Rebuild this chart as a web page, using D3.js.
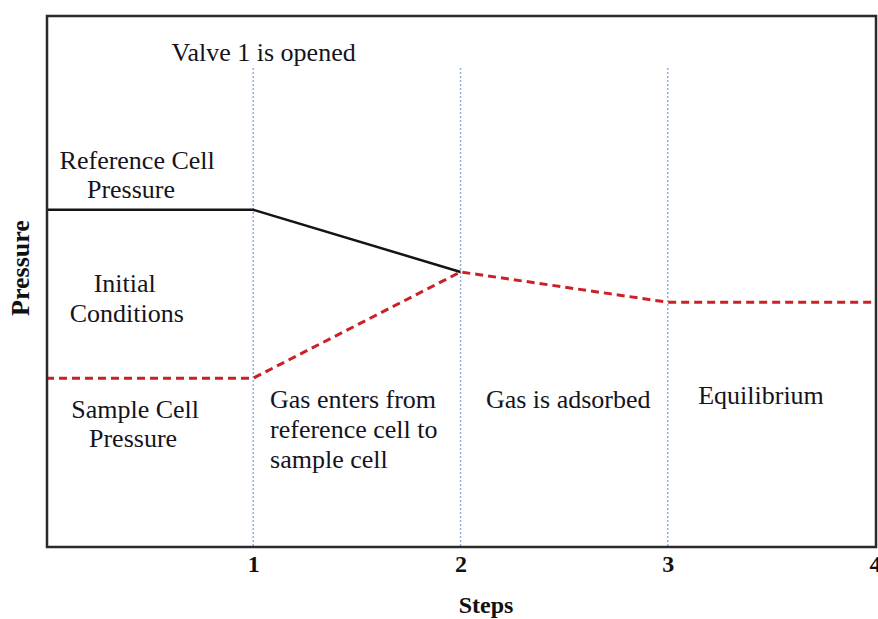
<!DOCTYPE html>
<html>
<head>
<meta charset="utf-8">
<script src="https://cdn.jsdelivr.net/npm/d3@7"></script>
<style>
  body { margin: 0; background: #fff; }
</style>
</head>
<body>
<svg id="chart" width="878" height="619"></svg>
<script>
/* Pressure steps diagram (arbitrary pressure units) */

const serif = "'Liberation Serif', 'Times New Roman', serif"

const steps = [1, 2, 3, 4]
const stepLines = [1, 2, 3]
const refCell = [[0, 63.5], [1, 63.5], [2, 51.8]]
const sampleCell = [[0, 31.8], [1, 31.8], [2, 51.8], [3, 46.1], [4, 46.1]]

// annotation text, step (x), pressure at baseline (y), anchor
const notes = [
  { text: 'Valve 1 is opened', x: 1.05, y: 91.5, a: 'middle' },
  { text: 'Reference Cell', x: 0.44, y: 71.2, a: 'middle' },
  { text: 'Pressure', x: 0.41, y: 65.7, a: 'middle' },
  { text: 'Initial', x: 0.38, y: 48.0, a: 'middle' },
  { text: 'Conditions', x: 0.39, y: 42.4, a: 'middle' },
  { text: 'Sample Cell', x: 0.43, y: 24.3, a: 'middle' },
  { text: 'Pressure', x: 0.42, y: 18.8, a: 'middle' },
  { text: 'Gas enters from', x: 1.081, y: 26.2, a: 'start' },
  { text: 'reference cell to', x: 1.081, y: 20.5, a: 'start' },
  { text: 'sample cell', x: 1.081, y: 14.9, a: 'start' },
  { text: 'Gas is adsorbed', x: 2.52, y: 26.2, a: 'middle' },
  { text: 'Equilibrium', x: 3.45, y: 26.9, a: 'middle' }
]

const svg = d3.select('#chart')
const box = { left: 47, top: 16, right: 876, bottom: 547 }

const x = d3.scaleLinear()
  .domain([0, 4])
  .range([46, 875])

const y = d3.scaleLinear()
  .domain([0, 100])
  .range([box.bottom, box.top])

// dotted step markers
svg.append('g')
  .selectAll('line')
  .data(stepLines)
  .join('line')
  .attr('x1', d => x(d))
  .attr('x2', d => x(d))
  .attr('y1', 68)
  .attr('y2', box.bottom)
  .style('stroke', '#8fb0dc')
  .style('stroke-width', 1.5)
  .style('stroke-dasharray', '2,2')

const line = d3.line()
  .x(d => x(d[0]))
  .y(d => y(d[1]))

svg.append('path')
  .datum(refCell)
  .attr('d', line)
  .style('fill', 'none')
  .style('stroke', '#141414')
  .style('stroke-width', 2.5)

svg.append('path')
  .datum(sampleCell)
  .attr('d', line)
  .style('fill', 'none')
  .style('stroke', '#cc2027')
  .style('stroke-width', 3)
  .style('stroke-dasharray', '8,5')

// frame
svg.append('rect')
  .attr('x', box.left)
  .attr('y', box.top)
  .attr('width', box.right - box.left)
  .attr('height', box.bottom - box.top)
  .style('fill', 'none')
  .style('stroke', '#2a2a2a')
  .style('stroke-width', 2.5)

// x axis
const xAxis = d3.axisBottom(x)
  .tickValues(steps)
  .tickSize(0)
  .tickPadding(8)
  .tickFormat(d3.format('d'))

svg.append('g')
  .attr('transform', 'translate(0,' + box.bottom + ')')
  .call(xAxis)
  .call(g => g.select('.domain').remove())
  .selectAll('text')
  .attr('font-family', serif)
  .attr('font-size', '24px')
  .attr('font-weight', 'bold')
  .attr('fill', '#111')

svg.append('text')
  .text('Steps')
  .attr('x', 486)
  .attr('y', 613)
  .attr('text-anchor', 'middle')
  .attr('font-family', serif)
  .attr('font-size', '24px')
  .attr('font-weight', 'bold')
  .attr('fill', '#111')

svg.append('text')
  .text('Pressure')
  .attr('transform', 'translate(29,268) rotate(-90)')
  .attr('text-anchor', 'middle')
  .attr('font-family', serif)
  .attr('font-size', '26px')
  .attr('font-weight', 'bold')
  .attr('fill', '#111')

// annotations
svg.append('g')
  .selectAll('text')
  .data(notes)
  .join('text')
  .text(d => d.text)
  .attr('x', d => x(d.x))
  .attr('y', d => y(d.y))
  .attr('text-anchor', d => d.a)
  .attr('font-family', serif)
  .attr('font-size', '26px')
  .attr('fill', '#141420')
</script>
</body>
</html>
